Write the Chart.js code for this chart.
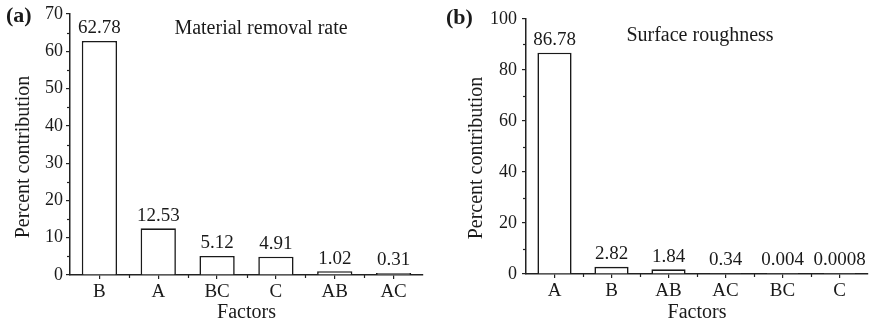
<!DOCTYPE html>
<html>
<head>
<meta charset="utf-8">
<script src="https://cdn.jsdelivr.net/npm/chart.js@4.4.1/dist/chart.umd.min.js"></script>
<style>
  body { margin: 0; background: #fff; }
  .panel { position: absolute; top: 0; width: 437px; height: 327px; }
</style>
</head>
<body>
<div class="panel" style="left:0"><canvas id="chartA"></canvas></div>
<div class="panel" style="left:437px"><canvas id="chartB"></canvas></div>
<script>
// (a) material removal rate
const factorsA = ['B', 'A', 'BC', 'C', 'AB', 'AC'];
const contribA = [62.78, 12.53, 5.12, 4.91, 1.02, 0.31];
const yTicksA = [0, 10, 20, 30, 40, 50, 60, 70];
const yMinorA = [5, 15, 25, 35, 45, 55, 65];

// (b) surface roughness
const factorsB = ['A', 'B', 'AB', 'AC', 'BC', 'C'];
const contribB = [86.78, 2.82, 1.84, 0.34, 0.004, 0.0008];
const yTicksB = [0, 20, 40, 60, 80, 100];
const yMinorB = [10, 30, 50, 70, 90];

const serif = '"Liberation Serif", "Times New Roman", serif';
const textColor = '#1a1a1a';
const axisColor = '#222';

Chart.defaults.font.family = serif;
Chart.defaults.color = textColor;

// value labels, minor ticks, panel letter, inner title and y title
const extras = {
  id: 'extras',
  afterDatasetsDraw(chart, args, opts) {
    const ctx = chart.ctx;
    const xs = chart.scales.x;
    const ys = chart.scales.y;
    const meta = chart.getDatasetMeta(0);
    const values = chart.data.datasets[0].data;
    ctx.save();

    ctx.fillStyle = textColor;
    ctx.font = '19px ' + serif;
    ctx.textAlign = 'center';
    ctx.textBaseline = 'bottom';
    meta.data.forEach((bar, i) => {
      ctx.fillText(String(values[i]), bar.x, Math.min(bar.y, ys.bottom - 1) - 3);
    });

    ctx.strokeStyle = axisColor;
    ctx.lineWidth = 1.2;
    opts.minorY.forEach(v => {
      const py = Math.round(ys.getPixelForValue(v)) + 0.5;
      ctx.beginPath();
      ctx.moveTo(ys.right - 3, py);
      ctx.lineTo(ys.right, py);
      ctx.stroke();
    });
    for (let i = 0; i < values.length - 1; i++) {
      const px = Math.round(xs.getPixelForValue(i + 0.5)) + 0.5;
      ctx.beginPath();
      ctx.moveTo(px, xs.top);
      ctx.lineTo(px, xs.top + 3);
      ctx.stroke();
    }

    ctx.textBaseline = 'middle';
    ctx.font = 'bold 22px ' + serif;
    ctx.textAlign = 'left';
    ctx.fillText(opts.panel, opts.panelX, opts.panelY);
    ctx.font = '20px ' + serif;
    ctx.textAlign = 'center';
    ctx.fillText(opts.title, opts.titleX, opts.titleY);

    ctx.translate(opts.yTitleX, opts.yTitleY);
    ctx.rotate(-Math.PI / 2);
    ctx.fillText('Percent contribution', 0, 0);
    ctx.restore();
  }
};

function makeChart(id, labels, values, yTicks, opts, layout) {
  const yMax = yTicks[yTicks.length - 1];
  return new Chart(document.getElementById(id), {
    type: 'bar',
    data: {
      labels: labels,
      datasets: [{
        data: values,
        backgroundColor: '#fff',
        borderColor: '#1a1a1a',
        borderWidth: 1.6,
        minBarLength: layout.minBar,
        barPercentage: 0.6,
        categoryPercentage: 1.0
      }]
    },
    options: {
      responsive: true,
      maintainAspectRatio: false,
      animation: false,
      layout: { padding: { left: 0, right: layout.right, top: layout.top, bottom: 0 } },
      plugins: {
        legend: { display: false },
        tooltip: { enabled: false },
        extras: opts
      },
      scales: {
        x: {
          offset: true,
          afterFit: s => { s.height = layout.xHeight; },
          grid: { offset: false, drawOnChartArea: false, tickLength: 4, color: axisColor, lineWidth: 1.2 },
          border: { color: axisColor, width: 1.5 },
          ticks: { font: { size: 19 }, padding: 2, color: textColor },
          title: { display: true, text: 'Factors', font: { size: 20 }, padding: { top: 0, bottom: 2 }, color: textColor }
        },
        y: {
          min: 0,
          max: yMax,
          afterFit: s => { s.width = layout.yWidth; },
          afterBuildTicks: s => { s.ticks = yTicks.map(v => ({ value: v })); },
          grid: { drawOnChartArea: false, tickLength: 4, color: axisColor, lineWidth: 1.2 },
          border: { color: axisColor, width: 1.5 },
          ticks: { font: { size: 18 }, padding: layout.tickPad, color: textColor }
        }
      }
    },
    plugins: [extras]
  });
}

makeChart('chartA', factorsA, contribA, yTicksA,
  { panel: '(a)', panelX: 6, panelY: 16, title: 'Material removal rate', titleX: 261, titleY: 29,
    yTitleX: 24, yTitleY: 157, minorY: yMinorA },
  { right: 14, top: 14, xHeight: 52, yWidth: 70, tickPad: 3, minBar: 2 });

makeChart('chartB', factorsB, contribB, yTicksB,
  { panel: '(b)', panelX: 9, panelY: 18, title: 'Surface roughness', titleX: 263, titleY: 36,
    yTitleX: 40, yTitleY: 158, minorY: yMinorB },
  { right: 6, top: 19, xHeight: 53, yWidth: 89, tickPad: 5, minBar: 0 });
</script>
</body>
</html>
